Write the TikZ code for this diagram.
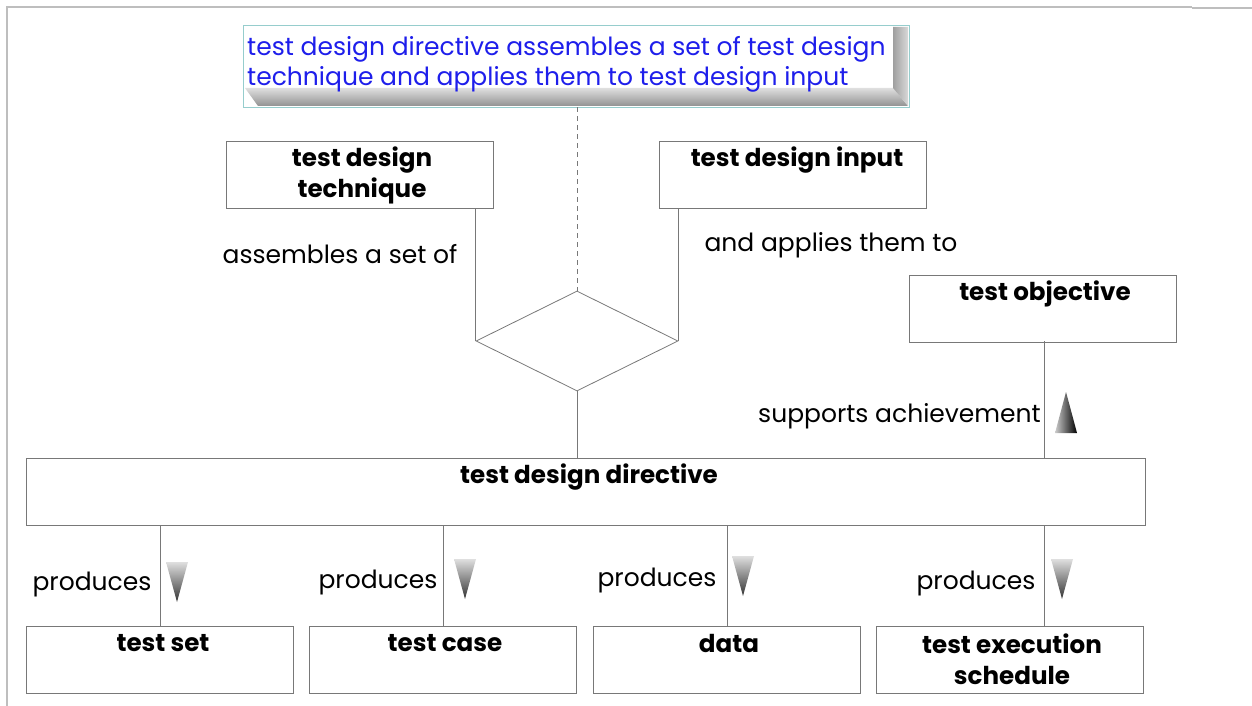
\documentclass[tikz,border=0pt]{standalone}
\usepackage{fontspec}
\setmainfont{Poppins}
\usetikzlibrary{shapes.geometric}
\definecolor{boxgray}{RGB}{120,120,120}
\definecolor{framegray}{RGB}{190,190,190}
\definecolor{topblue}{RGB}{30,30,235}
\definecolor{bevelrim}{RGB}{150,205,205}
\begin{document}
\begin{tikzpicture}[x=1pt,y=-1pt,
  box/.style={draw=boxgray, line width=0.8pt, minimum width=267pt, minimum height=67pt, inner sep=0pt, anchor=north west},
  btext/.style={font=\fontsize{24.6}{31}\selectfont\bfseries, align=center, inner sep=0pt, anchor=center},
  ltext/.style={font=\fontsize{25}{30}\selectfont, inner sep=0pt, anchor=center},
  conn/.style={draw=boxgray, line width=0.8pt},
  downtri/.style={top color=gray!25, bottom color=black!80, draw=none},
  uptri/.style={left color=gray!40, right color=black, draw=none}
]
\useasboundingbox (0,0) rectangle (1252,706);
% page frame
\draw[framegray, line width=1.2pt] (7,706) -- (7,7) -- (1192,7);
\draw[framegray, line width=2pt] (1192,8) -- (1252,8);

% top bevelled box
\fill[white] (243,25) rectangle (909,107);
\shade[top color=gray!25, bottom color=gray!85] (245,88) -- (893,88) -- (908,106) -- (258,106) -- cycle;
\shade[left color=gray!75, right color=gray!30] (893,27) -- (908,27) -- (908,106) -- (893,88) -- cycle;
\draw[bevelrim, line width=0.9pt] (243,25) rectangle (909,107);
\node[font=\fontsize{25}{30}\selectfont, text=topblue, align=left, anchor=west, inner sep=0pt] (toptext) at (247,64)
  {test design directive assembles a set of test design\\technique and applies them to test design input};
\node[inner sep=0pt, minimum size=0pt] (tbS) at (577,107) {};

% boxes
\node[box] (tdt) at (226,141) {};
\node[btext] (tdtT) at (362,175) {test design\\technique};
\node[box] (tdi) at (659,141) {};
\node[btext] (tdiT) at (797,160) {test design input};
\node[box] (tob) at (909,275) {};
\node[btext] (tobT) at (1045,294) {test objective};
\node[box, minimum width=1119pt] (tdd) at (26,458) {};
\node[btext] (tddT) at (589,477) {test design directive};

\node[box] (tset) at (26,626) {};
\node[btext] (tsetT) at (163,643) {test set};
\node[box] (tcase) at (309,626) {};
\node[btext] (tcaseT) at (445,643) {test case};
\node[box] (tdata) at (593,626) {};
\node[btext] (tdataT) at (729,643) {data};
\node[box] (tes) at (876,626) {};
\node[btext] (tesT) at (1012,659) {test execution\\schedule};

% diamond
\node[diamond, draw=boxgray, line width=0.8pt, minimum width=202pt, minimum height=100pt, inner sep=0pt, aspect=2] (dia) at (577,341) {};

% connectors
\draw[conn, dashed, dash pattern=on 5pt off 4pt] (tbS) -- (dia.north);
\draw[conn] (dia.west) -- (dia.west |- tdt.south);
\draw[conn] (dia.east) -- (dia.east |- tdi.south);
\draw[conn] (dia.south) -- (dia.south |- tdd.north);
\coordinate (tobB) at (1044,341);
\draw[conn] (tobB) -- (tobB |- tdd.north);

\foreach \x/\n in {160/tset,443/tcase,727/tdata,1044/tes}{
  \coordinate (p\n) at (\x,525);
  \draw[conn] (p\n) -- (p\n |- \n.north);
}

% labels
\node[ltext] (l1) at (340,254) {assembles a set of};
\node[ltext] (l2) at (831,245) {and applies them to};
\node[ltext, anchor=east] (l3) at (1041,416) {supports achievement};
\node[ltext] (p1) at (92,584) {produces};
\node[ltext] (p2) at (378,582) {produces};
\node[ltext] (p3) at (657,580) {produces};
\node[ltext] (p4) at (976,583) {produces};

% triangles
\shade[uptri] (1066,392) -- (1077,433) -- (1055,433) -- cycle;
\shade[downtri] (166,562) -- (188,562) -- (177,602) -- cycle;
\shade[downtri] (454,559) -- (476,559) -- (465,599) -- cycle;
\shade[downtri] (732,556) -- (754,556) -- (743,596) -- cycle;
\shade[downtri] (1051,559) -- (1073,559) -- (1062,599) -- cycle;
\end{tikzpicture}
\end{document}
